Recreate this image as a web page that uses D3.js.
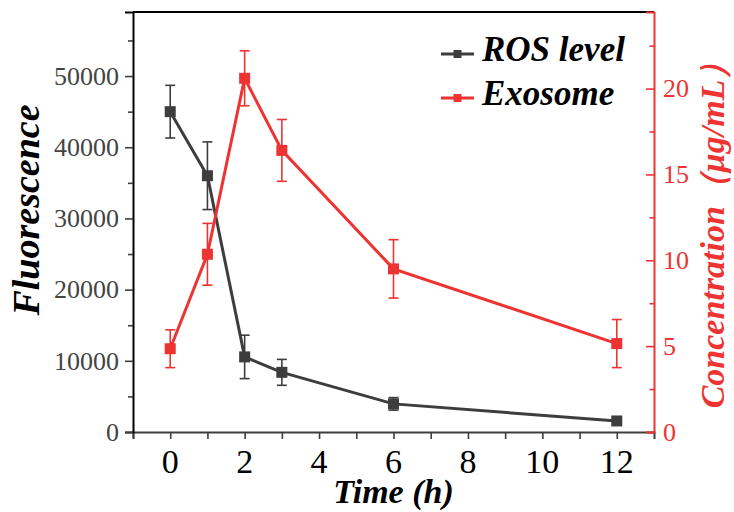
<!DOCTYPE html>
<html>
<head>
<meta charset="utf-8">
<script src="https://cdn.jsdelivr.net/npm/d3@7"></script>
<style>
  body { margin: 0; background: #fff; }
  svg text { font-family: "Liberation Serif", "Times New Roman", serif; }
</style>
</head>
<body>
<div id="chart"></div>
<script>
// data
var timeH = [0, 1, 2, 3, 6, 12];
var rosLevel = [45000, 36000, 10550, 8380, 3950, 1550];
var rosErr = [3700, 4750, 3050, 1820, 880, 300];
var exosome = [4.85, 10.35, 20.6, 16.4, 9.5, 5.15];
var exoErr = [1.1, 1.8, 1.6, 1.8, 1.7, 1.4];

var xTicks = [0, 2, 4, 6, 8, 10, 12];
var leftTicks = [0, 10000, 20000, 30000, 40000, 50000];
var rightTicks = [0, 5, 10, 15, 20];

var grey = "#3d3d3d", red = "#ee3333";

var W = 734, H = 512;
var plot = {left: 133, right: 654, top: 12, bottom: 432};

var svg = d3.select("#chart").append("svg")
  .attr("width", W)
  .attr("height", H);

var x = d3.scaleLinear().domain([-1, 13]).range([plot.left, plot.right]);
var yL = d3.scaleLinear().domain([0, 59000]).range([plot.bottom, plot.top]);
var yR = d3.scaleLinear().domain([0, 24.46]).range([plot.bottom, plot.top]);

// top frame line
svg.append("line")
  .attr("x1", plot.left).attr("x2", plot.right)
  .attr("y1", plot.top).attr("y2", plot.top)
  .attr("stroke", "#000").attr("stroke-width", 2);

// bottom axis
var gx = svg.append("g")
  .attr("transform", "translate(0," + plot.bottom + ")")
  .call(d3.axisBottom(x).tickValues(d3.range(-1, 13)).tickSize(7).tickFormat(""));
gx.select(".domain").attr("stroke", grey).attr("stroke-width", 2);
gx.selectAll(".tick line").attr("stroke", grey).attr("stroke-width", 1.6);
svg.append("g").selectAll("text")
  .data(xTicks)
  .enter()
  .append("text")
    .attr("x", function(d) { return x(d); })
    .attr("y", 473)
    .attr("text-anchor", "middle")
    .style("font-size", "34px")
    .attr("fill", "#000")
    .text(function(d) { return d; });

// left axis
var gl = svg.append("g")
  .attr("transform", "translate(" + plot.left + ",0)")
  .call(d3.axisLeft(yL).tickValues(d3.range(0, 59000, 5000)).tickSize(8).tickFormat(""));
gl.select(".domain").attr("stroke", "#000").attr("stroke-width", 2);
gl.selectAll(".tick line")
  .attr("stroke", grey).attr("stroke-width", 1.6)
  .attr("x2", function(d) { return d % 10000 === 0 ? -8 : -5; });
svg.append("g").selectAll("text")
  .data(leftTicks)
  .enter()
  .append("text")
    .attr("x", 119)
    .attr("y", function(d) { return yL(d); })
    .attr("dy", "0.34em")
    .attr("text-anchor", "end")
    .style("font-size", "26px")
    .attr("fill", "#444")
    .text(function(d) { return d; });

// right axis (ticks point inward)
var gr = svg.append("g")
  .attr("transform", "translate(" + plot.right + ",0)")
  .call(d3.axisLeft(yR).tickValues(d3.range(0, 24, 2.5)).tickSize(8).tickFormat(""));
gr.select(".domain").attr("stroke", red).attr("stroke-width", 2);
gr.selectAll(".tick line")
  .attr("stroke", red).attr("stroke-width", 1.6)
  .attr("x2", function(d) { return d % 5 === 0 ? -8 : -4.5; });
svg.append("g").selectAll("text")
  .data(rightTicks)
  .enter()
  .append("text")
    .attr("x", 663)
    .attr("y", function(d) { return yR(d); })
    .attr("dy", "0.34em")
    .attr("text-anchor", "start")
    .style("font-size", "26px")
    .attr("fill", red)
    .text(function(d) { return d; });

// axis titles
svg.append("text")
  .attr("transform", "translate(39,210) rotate(-90)")
  .attr("text-anchor", "middle")
  .style("font-size", "38px").style("font-weight", "bold").style("font-style", "italic")
  .attr("fill", "#000")
  .text("Fluorescence");

svg.append("text")
  .attr("x", (plot.left + plot.right) / 2)
  .attr("y", 503)
  .attr("text-anchor", "middle")
  .style("font-size", "34px").style("font-weight", "bold").style("font-style", "italic")
  .attr("fill", "#000")
  .text("Time (h)");

svg.append("text")
  .attr("transform", "translate(724,227) rotate(-90)")
  .attr("text-anchor", "middle")
  .style("font-size", "34px").style("font-weight", "bold").style("font-style", "italic")
  .attr("fill", red)
  .text("Concentration（μg/mL）");

// series
function drawSeries(vals, errs, yScale, color) {
  var pts = timeH.map(function(t, i) { return {t: t, v: vals[i], e: errs[i]}; });
  var g = svg.append("g");

  // error bars
  var eb = g.selectAll(".err").data(pts).enter().append("g");
  eb.append("line")
    .attr("x1", function(d) { return x(d.t); })
    .attr("x2", function(d) { return x(d.t); })
    .attr("y1", function(d) { return yScale(d.v - d.e); })
    .attr("y2", function(d) { return yScale(d.v + d.e); })
    .attr("stroke", color).attr("stroke-width", 1.6);
  [-1, 1].forEach(function(s) {
    eb.append("line")
      .attr("x1", function(d) { return x(d.t) - 5; })
      .attr("x2", function(d) { return x(d.t) + 5; })
      .attr("y1", function(d) { return yScale(d.v + s * d.e); })
      .attr("y2", function(d) { return yScale(d.v + s * d.e); })
      .attr("stroke", color).attr("stroke-width", 1.6);
  });

  g.append("path")
    .datum(pts)
    .attr("fill", "none")
    .attr("stroke", color)
    .attr("stroke-width", 3)
    .attr("d", d3.line()
      .x(function(d) { return x(d.t); })
      .y(function(d) { return yScale(d.v); }));

  g.selectAll("rect")
    .data(pts)
    .enter()
    .append("rect")
      .attr("x", function(d) { return x(d.t) - 5.5; })
      .attr("y", function(d) { return yScale(d.v) - 5.5; })
      .attr("width", 11)
      .attr("height", 11)
      .attr("fill", color);
}

drawSeries(rosLevel, rosErr, yL, grey);
drawSeries(exosome, exoErr, yR, red);

// legend
var legend = [
  {name: "ROS level", color: grey, y: 54},
  {name: "Exosome", color: red, y: 98}
];
var lg = svg.append("g").selectAll("g").data(legend).enter().append("g");
lg.append("line")
  .attr("x1", 441).attr("x2", 474)
  .attr("y1", function(d) { return d.y; })
  .attr("y2", function(d) { return d.y; })
  .attr("stroke", function(d) { return d.color; })
  .attr("stroke-width", 3);
lg.append("rect")
  .attr("x", 453.5).attr("y", function(d) { return d.y - 4; })
  .attr("width", 8).attr("height", 8)
  .attr("fill", function(d) { return d.color; });
lg.append("text")
  .attr("x", 482)
  .attr("y", function(d) { return d.y + 7; })
  .style("font-size", "35px").style("font-weight", "bold").style("font-style", "italic")
  .attr("fill", "#000")
  .text(function(d) { return d.name; });
</script>
</body>
</html>
